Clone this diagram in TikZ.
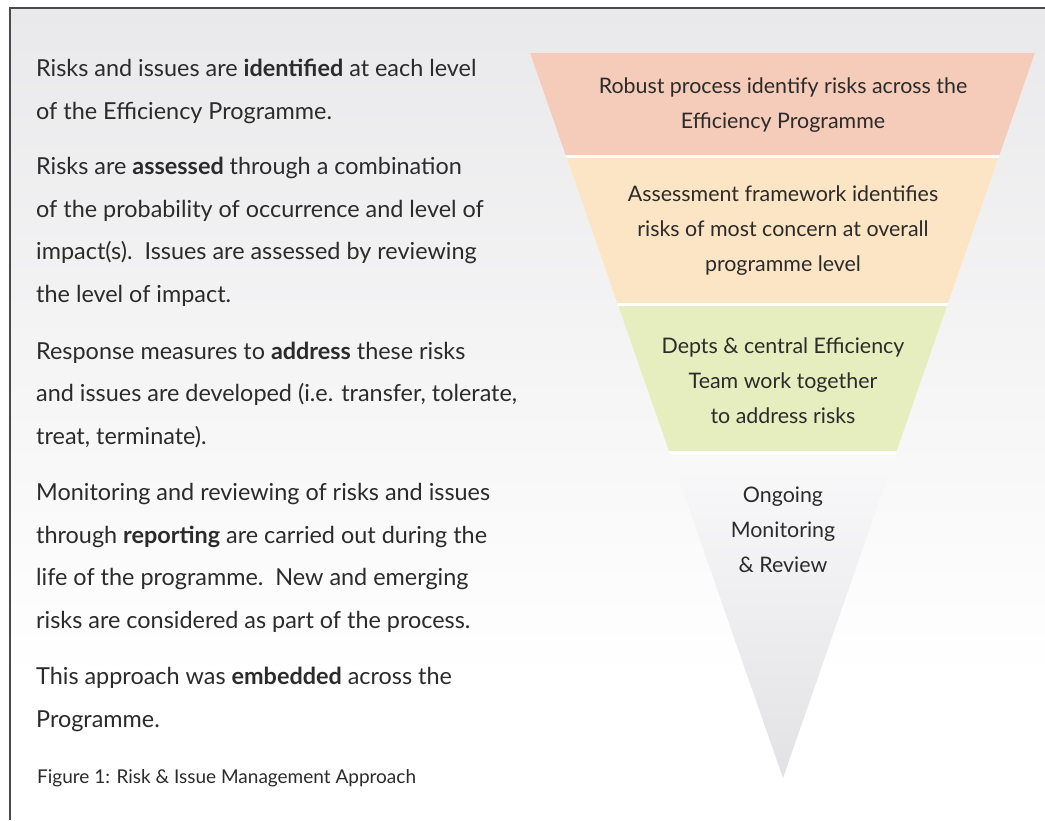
\documentclass[tikz,border=0pt]{standalone}
\usepackage{fontspec}
\setmainfont{Lato}
\definecolor{ink}{HTML}{2B2B2B}
\definecolor{frameline}{HTML}{4A4A4A}
\definecolor{bgtop}{HTML}{E9E9EB}
\definecolor{bandA}{HTML}{F5CBB9}
\definecolor{bandB}{HTML}{FCE5C4}
\definecolor{bandC}{HTML}{E6EEBF}
\definecolor{bandDtop}{HTML}{F9F9FA}
\definecolor{bandDbot}{HTML}{E2E2E5}
\begin{document}
\begin{tikzpicture}[x=1pt,y=-1pt,
  % paragraphs are placed by the baseline of their last line
  para/.style={anchor=base west,align=left,inner sep=0pt,text=ink,
    font=\fontsize{23.4}{42.5}\selectfont},
  caption/.style={anchor=base west,inner sep=0pt,text=ink,
    font=\fontsize{19}{22}\selectfont},
  bandtext/.style={align=center,inner sep=0pt,text=ink,
    font=\fontsize{21.4}{35}\selectfont}]
\useasboundingbox (0,0) rectangle (1045,820);

% page background: soft grey fading to white
\fill[white] (0,0) rectangle (1045,820);
\shade[top color=bgtop, bottom color=white] (10,8) rectangle (1045,680);
\draw[frameline, line width=1.6pt] (10,820) -- (10,8) -- (1045,8);

% inverted funnel, four bands separated by thin white gaps
\begin{scope}
  \clip (530,53) -- (1035,53) -- (783,778) -- cycle;
  \fill[white] (520,50) rectangle (1045,790);
  \fill[bandA] (520,50) rectangle (1045,155);
  \fill[bandB] (520,158) rectangle (1045,303);
  \fill[bandC] (520,306) rectangle (1045,451);
  \shade[top color=bandDtop, bottom color=bandDbot] (520,454) rectangle (1045,780);
\end{scope}

\node[bandtext] (lvlA) at (783,105.5) {Robust process identify risks across the\\Efficiency Programme};
\node[bandtext] (lvlB) at (783,231) {Assessment framework identifies\\risks of most concern at overall\\programme level};
\node[bandtext] (lvlC) at (783,381) {Depts \& central Efficiency\\Team work together\\to address risks};
\node[bandtext] (lvlD) at (783,530) {Ongoing\\Monitoring\\\& Review};

% explanatory text
\node[para] (identify) at (36,119) {Risks and issues are \textbf{identified} at each level\\of the Efficiency Programme.};
\node[para] (assess) at (36,302) {Risks are \textbf{assessed} through a combination\\of the probability of occurrence and level of\\impact(s).\ \ Issues are assessed by reviewing\\the level of impact.};
\node[para] (address) at (36,444) {Response measures to \textbf{address} these risks\\and issues are developed (i.e. transfer, tolerate,\\treat, terminate).};
\node[para] (report) at (36,628) {Monitoring and reviewing of risks and issues\\through \textbf{reporting} are carried out during the\\life of the programme.\ \ New and emerging\\risks are considered as part of the process.};
\node[para] (embed) at (36,727) {This approach was \textbf{embedded} across the\\Programme.};
\node[caption] (figcap) at (37,783) {Figure 1: Risk \& Issue Management Approach};
\end{tikzpicture}
\end{document}
